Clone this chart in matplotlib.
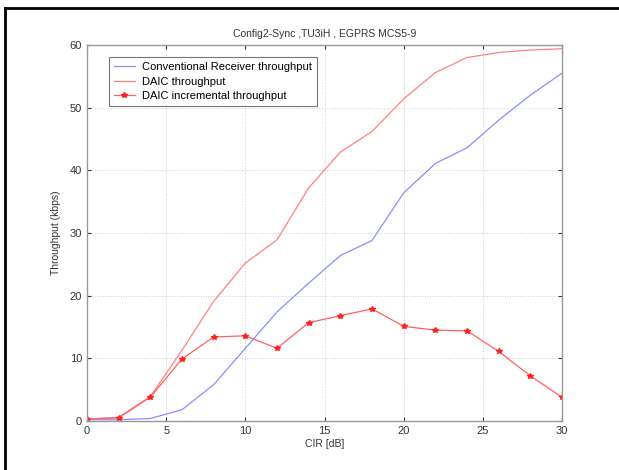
import matplotlib
matplotlib.use("Agg")
import matplotlib.pyplot as plt
from matplotlib.lines import Line2D

cir = [0, 2, 4, 6, 8, 10, 12, 14, 16, 18, 20, 22, 24, 26, 28, 30]
conventional = [0.2, 0.2, 0.4, 1.8, 5.8, 11.6, 17.4, 22.0, 26.4, 28.8, 36.4, 41.1, 43.6, 48.0, 52.0, 55.5]
daic = [0.3, 0.6, 3.9, 11.3, 19.1, 25.2, 28.9, 37.2, 42.9, 46.2, 51.4, 55.6, 58.0, 58.8, 59.2, 59.4]
daic_incr = [0.3, 0.5, 3.8, 9.9, 13.4, 13.6, 11.6, 15.7, 16.8, 17.9, 15.1, 14.5, 14.4, 11.1, 7.2, 3.8]

xticks = [0, 5, 10, 15, 20, 25, 30]
yticks = [0, 10, 20, 30, 40, 50, 60]

plt.rcParams['font.family'] = ['Liberation Sans', 'DejaVu Sans']

fig = plt.figure(figsize=(6.19, 4.70), dpi=100)
ax = fig.add_axes([87/619, (470-421)/470, (562-87)/619, (421-45)/470])

ax.plot(cir, conventional, color='#8c8cff', lw=0.9, label='Conventional Receiver throughput')
ax.plot(cir, daic, color='#ff8080', lw=0.9, label='DAIC throughput')
ax.plot(cir, daic_incr, color='#ff6060', lw=0.9, marker='*', markersize=4,
        markerfacecolor='#ff2020', markeredgecolor='#ff2020', label='DAIC incremental throughput')

ax.set_xlim(0, 30)
ax.set_ylim(0, 60)
ax.set_xticks(xticks)
ax.set_yticks(yticks)
ax.tick_params(direction='in', length=3, labelsize=8, colors='#333333', top=True, right=True)
ax.grid(True, linestyle=':', color='#cccccc', lw=0.7)
for s in ax.spines.values():
    s.set_color('#999999')
    s.set_linewidth(1.0)

ax.set_title('Config2-Sync ,TU3iH , EGPRS MCS5-9', fontsize=7.5, color='#333333', pad=6)
ax.set_xlabel('CIR [dB]', fontsize=7.5, color='#333333', labelpad=2)
ax.set_ylabel('Throughput (kbps)', fontsize=7.5, color='#333333', labelpad=6)

leg = ax.legend(loc='upper left', bbox_to_anchor=(0.046, 0.968), borderaxespad=0, fontsize=8,
                frameon=True, fancybox=False, edgecolor='#555555', handlelength=1.9,
                borderpad=0.45, labelspacing=0.42, handletextpad=0.6)
leg.get_frame().set_linewidth(0.8)

# outer frame lines (top and left)
fig.add_artist(Line2D([5/619, 1.0], [1 - 8/470, 1 - 8/470], color='black', lw=2, transform=fig.transFigure))
fig.add_artist(Line2D([5/619, 5/619], [0.0, 1 - 8/470], color='black', lw=2, transform=fig.transFigure))

fig.savefig('out.png', dpi=100)
